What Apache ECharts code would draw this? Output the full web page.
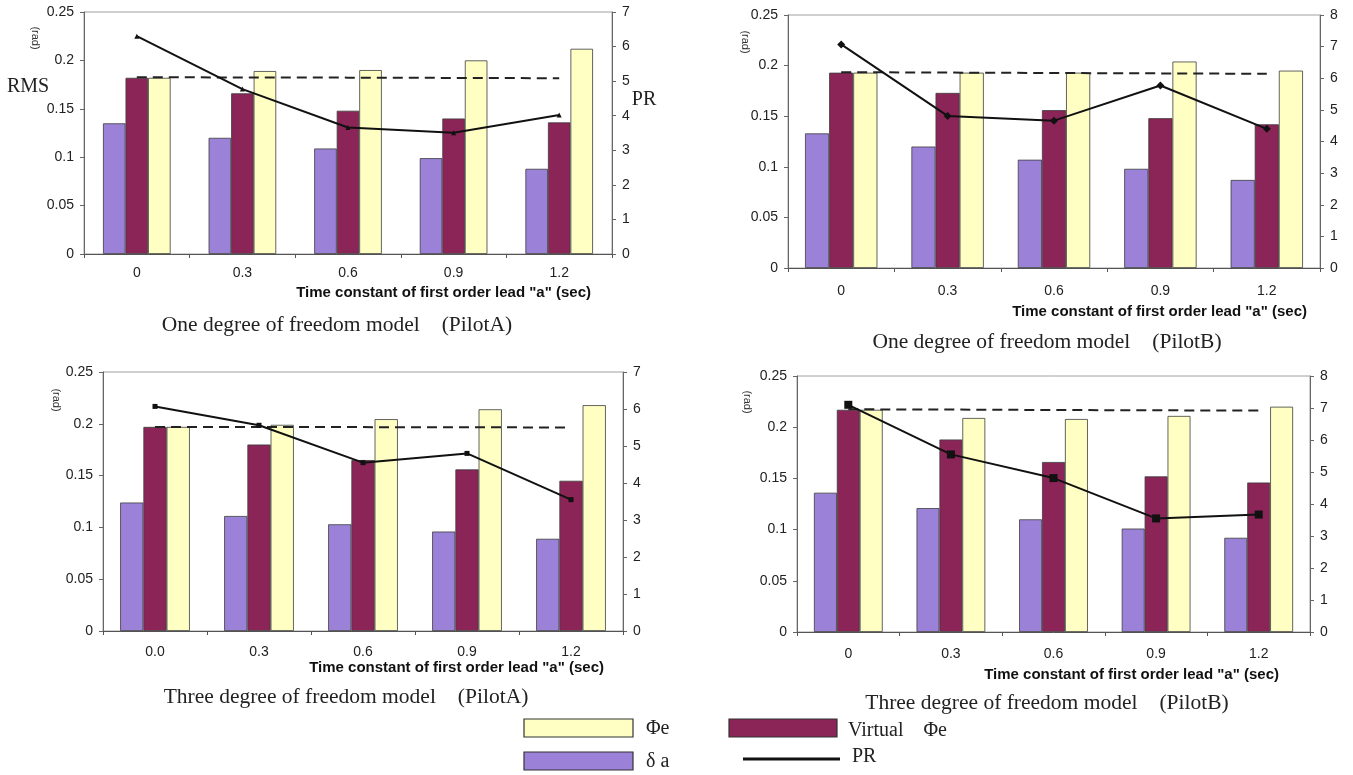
<!DOCTYPE html>
<html><head><meta charset="utf-8">
<script src="https://cdn.jsdelivr.net/npm/echarts@6/dist/echarts.min.js"></script>
<style>html,body{margin:0;padding:0;background:#fff}#c{width:1353px;height:775px}</style>
</head><body><div id="c"></div>
<script>
// ---- data ----
const catsA = ['0', '0.3', '0.6', '0.9', '1.2'];
const catsC = ['0.0', '0.3', '0.6', '0.9', '1.2'];
const rmsTicks = [0, 0.05, 0.1, 0.15, 0.2, 0.25];
const prTicks7 = [0, 1, 2, 3, 4, 5, 6, 7];
const prTicks8 = [0, 1, 2, 3, 4, 5, 6, 7, 8];

// One DOF, Pilot A
const delta1 = [0.135, 0.120, 0.109, 0.099, 0.088];
const virt1  = [0.182, 0.166, 0.148, 0.140, 0.136];
const phi1   = [0.182, 0.189, 0.190, 0.200, 0.212];
const ref1   = [0.1826, 0.1824, 0.1822, 0.1819, 0.1816];
const pr1    = [6.30, 4.77, 3.66, 3.51, 4.02];

// One DOF, Pilot B
const delta2 = [0.133, 0.120, 0.107, 0.098, 0.087];
const virt2  = [0.193, 0.173, 0.156, 0.148, 0.142];
const phi2   = [0.193, 0.193, 0.193, 0.204, 0.195];
const ref2   = [0.1935, 0.1931, 0.1927, 0.1923, 0.1919];
const pr2    = [7.07, 4.81, 4.66, 5.77, 4.40];

// Three DOF, Pilot A
const delta3 = [0.124, 0.111, 0.103, 0.096, 0.089];
const virt3  = [0.197, 0.180, 0.165, 0.156, 0.145];
const phi3   = [0.197, 0.199, 0.2045, 0.214, 0.218];
const ref3   = [0.1970, 0.1969, 0.1968, 0.1966, 0.1965];
const pr3    = [6.07, 5.56, 4.55, 4.80, 3.55];

// Three DOF, Pilot B
const delta4 = [0.136, 0.121, 0.110, 0.101, 0.092];
const virt4  = [0.217, 0.188, 0.166, 0.152, 0.146];
const phi4   = [0.217, 0.209, 0.208, 0.211, 0.220];
const ref4   = [0.2175, 0.2172, 0.2168, 0.2165, 0.2162];
const pr4    = [7.10, 5.55, 4.81, 3.55, 3.67];

const captions = [
  'One degree of freedom model\u3000(PilotA)',
  'One degree of freedom model\u3000(PilotB)',
  'Three degree of freedom model\u3000(PilotA)',
  'Three degree of freedom model\u3000(PilotB)'
];
const xTitle = 'Time constant of first order lead "a" (sec)';

// ---- layout ----
const panels = [
  {grid:{left:84, top:12, width:528, height:242}, cats:catsA, d:delta1, v:virt1, p:phi1, r:ref1, pr:pr1, prT:prTicks7, sym:'triangle', symSize:5, gap:'36%', lm:12,
   title:{x:591,y:293}, cap:{x:337,y:325}, rad:{x:35,y:38}},
  {grid:{left:788, top:15, width:532, height:253}, cats:catsA, d:delta2, v:virt2, p:phi2, r:ref2, pr:pr2, prT:prTicks8, sym:'diamond', symSize:8, gap:'32%', lm:16,
   title:{x:1307,y:312}, cap:{x:1047,y:342}, rad:{x:745,y:42}},
  {grid:{left:103, top:372, width:520, height:259}, cats:catsC, d:delta3, v:virt3, p:phi3, r:ref3, pr:pr3, prT:prTicks7, sym:'rect', symSize:5, gap:'33%', lm:14,
   title:{x:604,y:668}, cap:{x:346,y:697}, rad:{x:56,y:400}},
  {grid:{left:797, top:376, width:513, height:256}, cats:catsA, d:delta4, v:virt4, p:phi4, r:ref4, pr:pr4, prT:prTicks8, sym:'rect', symSize:8, gap:'33%', lm:15,
   title:{x:1279,y:675}, cap:{x:1047,y:703}, rad:{x:747,y:402}}
];

const C_PURPLE = '#9b82d8', C_MAROON = '#8b2457', C_YELLOW = '#ffffc4';
const tickFont = {fontFamily:'Liberation Sans', fontSize:14, color:'#222'};

const grid = [], xAxis = [], yAxis = [], series = [], graphic = [];
panels.forEach((P, i) => {
  grid.push(Object.assign({show:true, borderColor:'#a0a0a0', borderWidth:1, backgroundColor:'#fff'}, P.grid));
  xAxis.push({type:'category', gridIndex:i, data:P.cats, boundaryGap:true,
    axisLine:{lineStyle:{color:'#555', width:1}},
    axisTick:{show:true, length:4, lineStyle:{color:'#555'}},
    axisLabel:Object.assign({margin:P.lm}, tickFont)});
  yAxis.push({type:'value', gridIndex:i, min:rmsTicks[0], max:rmsTicks[rmsTicks.length-1], interval:rmsTicks[1]-rmsTicks[0],
    axisLine:{show:true, lineStyle:{color:'#666'}}, axisTick:{show:true, length:4, lineStyle:{color:'#666'}},
    splitLine:{show:false}, axisLabel:Object.assign({margin:10}, tickFont)});
  yAxis.push({type:'value', gridIndex:i, position:'right', min:P.prT[0], max:P.prT[P.prT.length-1], interval:1,
    axisLine:{show:true, lineStyle:{color:'#666'}}, axisTick:{show:true, length:4, lineStyle:{color:'#666'}},
    splitLine:{show:false}, axisLabel:Object.assign({margin:10}, tickFont)});
  const bs = {borderColor:'#3c3c3c', borderWidth:0.8};
  series.push({type:'bar', name:'δ a', xAxisIndex:i, yAxisIndex:2*i, data:P.d, barGap:'0%', barCategoryGap:P.gap,
    itemStyle:Object.assign({color:C_PURPLE}, bs)});
  series.push({type:'bar', name:'Virtual Φe', xAxisIndex:i, yAxisIndex:2*i, data:P.v, barGap:'0%', barCategoryGap:P.gap,
    itemStyle:Object.assign({color:C_MAROON}, bs)});
  series.push({type:'bar', name:'Φe', xAxisIndex:i, yAxisIndex:2*i, data:P.p, barGap:'0%', barCategoryGap:P.gap,
    itemStyle:Object.assign({color:C_YELLOW}, bs)});
  series.push({type:'line', name:'ref', xAxisIndex:i, yAxisIndex:2*i, data:P.r, symbol:'none', z:5,
    lineStyle:{color:'#222', width:2, type:[10,6]}});
  series.push({type:'line', name:'PR', xAxisIndex:i, yAxisIndex:2*i+1, data:P.pr, symbol:P.sym, symbolSize:P.symSize, z:6,
    lineStyle:{color:'#111', width:2}, itemStyle:{color:'#111'}});

  graphic.push({type:'text', x:P.title.x, y:P.title.y, style:{text:xTitle, align:'right', verticalAlign:'middle',
    font:'bold 15px "Liberation Sans"', fill:'#111'}, silent:true});
  graphic.push({type:'text', x:P.cap.x, y:P.cap.y, style:{text:captions[i], align:'center', verticalAlign:'middle',
    font:'21.5px "Liberation Serif"', fill:'#222'}, silent:true});
  graphic.push({type:'text', x:P.rad.x, y:P.rad.y, rotation:-Math.PI/2, style:{text:'(rad)', align:'center', verticalAlign:'middle',
    font:'11px "Liberation Sans"', fill:'#333'}, silent:true});
});

graphic.push({type:'text', x:28, y:87, style:{text:'RMS', align:'center', verticalAlign:'middle', font:'20px "Liberation Serif"', fill:'#222'}});
graphic.push({type:'text', x:644, y:100, style:{text:'PR', align:'center', verticalAlign:'middle', font:'20px "Liberation Serif"', fill:'#222'}});

// legend
const lg = [
  {x:524, y:719, w:109, h:18, fill:C_YELLOW, label:'Φe', tx:646, ty:729},
  {x:524, y:752, w:109, h:18, fill:C_PURPLE, label:'δ a', tx:646, ty:762},
  {x:729, y:719, w:108, h:18, fill:C_MAROON, label:'Virtual\u3000Φe', tx:848, ty:731}
];
lg.forEach(o => {
  graphic.push({type:'rect', shape:{x:o.x, y:o.y, width:o.w, height:o.h}, style:{fill:o.fill, stroke:'#333', lineWidth:1.2}});
  graphic.push({type:'text', x:o.tx, y:o.ty, style:{text:o.label, align:'left', verticalAlign:'middle', font:'20px "Liberation Serif"', fill:'#222'}});
});
graphic.push({type:'line', shape:{x1:743, y1:759, x2:840, y2:759}, style:{stroke:'#111', lineWidth:3}});
graphic.push({type:'text', x:852, y:757, style:{text:'PR', align:'left', verticalAlign:'middle', font:'20px "Liberation Serif"', fill:'#222'}});

const chart = echarts.init(document.getElementById('c'), null, {renderer:'canvas'});
chart.setOption({backgroundColor:'#fff', animation:false, grid, xAxis, yAxis, series, graphic});
</script></body></html>
